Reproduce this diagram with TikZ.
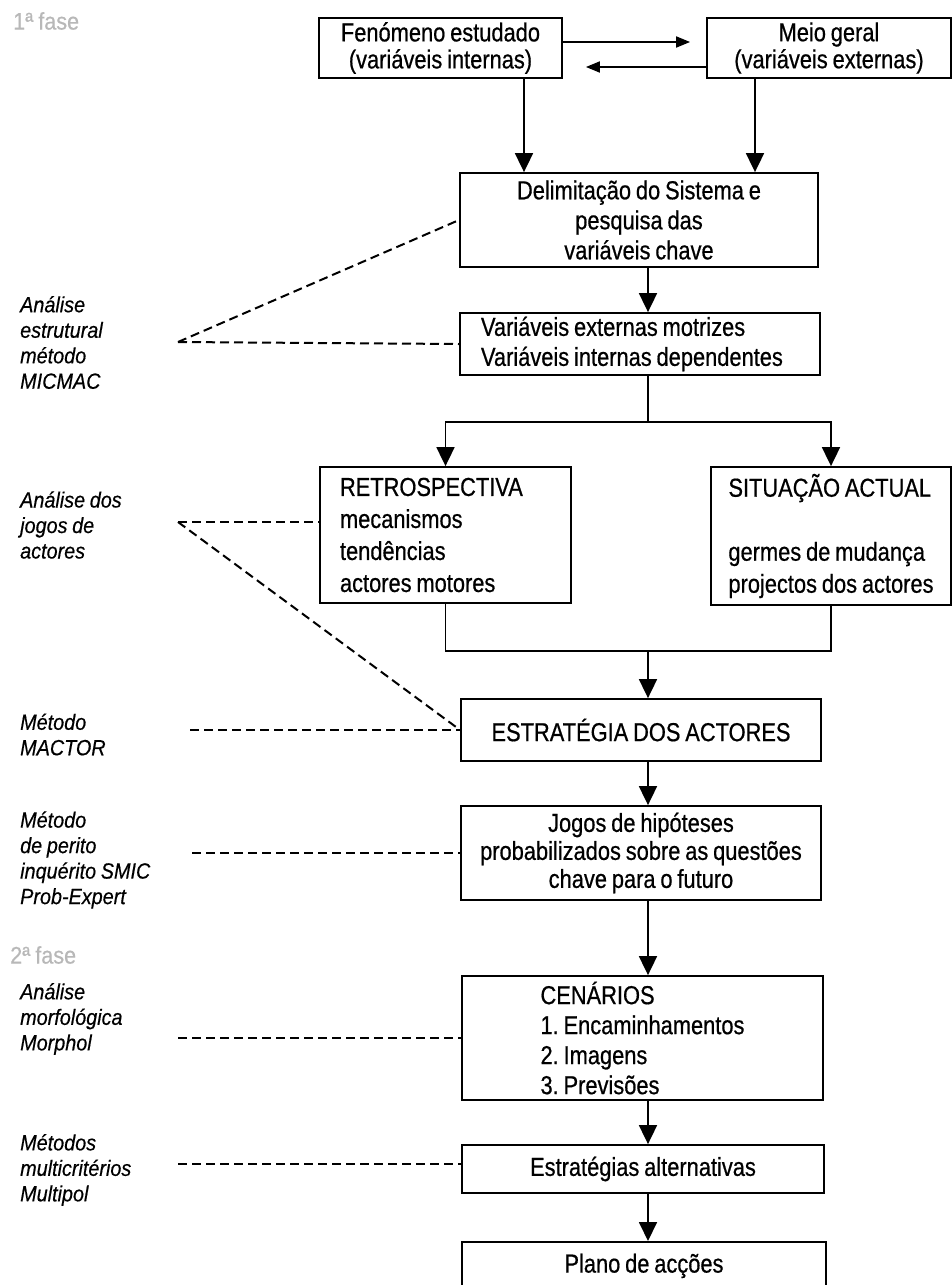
\documentclass[tikz,border=0pt]{standalone}
\usepackage{fontspec}
\setmainfont{Liberation Sans}
\newfontfamily\boxfont{Liberation Sans}[FakeStretch=0.84,FakeBold=0.6,WordSpace=0.8]
\newfontfamily\sidefont{Liberation Sans}[FakeStretch=0.9,FakeBold=0.4,WordSpace=0.85]
\usetikzlibrary{arrows.meta}

\begin{document}
\frenchspacing
\begin{tikzpicture}[x=1pt,y=-1pt,
  box/.style={draw, line width=1.8pt, inner sep=0pt, align=center,
    font=\boxfont\fontsize{26}{30}\selectfont,
    execute at begin node={\spaceskip=0pt\xspaceskip=0pt}},
  arr/.style={line width=1.8pt, -{Triangle[length=19pt,width=18pt]}},
  harr/.style={line width=1.8pt, -{Triangle[length=14pt,width=11pt]}},
  link/.style={line width=1.8pt},
  dashln/.style={line width=2pt, dash pattern=on 9pt off 5pt},
  side/.style={anchor=west, align=left, inner sep=0pt,
    font=\sidefont\itshape\fontsize{22}{25.5}\selectfont},
  phase/.style={anchor=west, inner sep=0pt, text=black!28,
    font=\sidefont\fontsize{24}{24}\selectfont}]
\useasboundingbox (0,0) rectangle (952,1285);
\fill[white] (0,0) rectangle (952,1285);
\clip (0,0) rectangle (952,1285);

% phase markers
\node[phase] (fase1) at (13,21) {1ª fase};
\node[phase] (fase2) at (10,955) {2ª fase};

% main chain of boxes
\node[box, minimum width=243pt, minimum height=60pt,
  font=\boxfont\fontsize{26}{27}\selectfont] (fen) at (440.5,48)
  {Fenómeno estudado\\(variáveis internas)};
\node[box, minimum width=244pt, minimum height=60pt,
  font=\boxfont\fontsize{26}{27}\selectfont] (meio) at (829,48)
  {Meio geral\\(variáveis externas)};
\node[box, minimum width=358pt, minimum height=94pt] (delim) at (639,220)
  {Delimitação do Sistema e\\pesquisa das\\variáveis chave};
\node[box, text width=318pt, inner xsep=21pt, minimum height=62pt, align=left] (var) at (640,344)
  {Variáveis externas motrizes\\Variáveis internas dependentes};
\node[box, text width=211pt, inner xsep=20pt, minimum height=136pt, align=left,
  font=\boxfont\fontsize{26}{32}\selectfont] (retro) at (445.5,535)
  {RETROSPECTIVA\\mecanismos\\tendências\\actores motores};
\node[box, minimum width=240pt, minimum height=138pt, align=left,
  font=\boxfont\fontsize{26}{32}\selectfont] (sit) at (831,536)
  {SITUAÇÃO ACTUAL\\[32pt]germes de mudança\\projectos dos actores};
\node[box, minimum width=360pt, minimum height=62pt] (est) at (641,730)
  {ESTRATÉGIA DOS ACTORES};
\node[box, minimum width=360pt, minimum height=94pt,
  font=\boxfont\fontsize{26}{28}\selectfont] (jogos) at (641,853)
  {Jogos de hipóteses\\probabilizados sobre as questões\\chave para o futuro};
\node[box, minimum width=361pt, minimum height=124pt, align=left] (cen) at (642.5,1038)
  {CENÁRIOS\\1. Encaminhamentos\\2. Imagens\\3. Previsões};
\node[box, minimum width=362pt, minimum height=48pt] (alt) at (643,1169)
  {Estratégias alternativas};
\node[box, minimum width=364pt, minimum height=48pt, anchor=north] (plano) at (644,1241)
  {Plano de acções};

% method labels
\node[side] (lMicmac) at (20,342.5) {Análise\\estrutural\\método\\MICMAC};
\node[side] (lJogos) at (20,525) {Análise dos\\jogos de\\actores};
\node[side] (lMactor) at (20,734.5) {Método\\MACTOR};
\node[side] (lSmic) at (20,860) {Método\\de perito\\inquérito SMIC\\Prob-Expert};
\node[side] (lMorph) at (20,1019) {Análise\\morfológica\\Morphol};
\node[side] (lMulti) at (20,1170) {Métodos\\multicritérios\\Multipol};

% flow connectors
\coordinate (spine) at (648,0);
\coordinate (split) at (648,422);
\coordinate (join) at (648,651);
\draw[harr] ([yshift=6pt]fen.east) -- ([yshift=6pt,xshift=-16pt]meio.west);
\draw[harr] ([yshift=-19pt]meio.west) -- ([yshift=-19pt,xshift=23pt]fen.east);
\draw[arr] ([xshift=83.5pt]fen.south) -- ([xshift=83.5pt]fen.south |- delim.north);
\draw[arr] ([xshift=-74pt]meio.south) -- ([xshift=-74pt]meio.south |- delim.north);
\draw[arr] (delim.south -| spine) -- (var.north -| spine);
\draw[link] (var.south -| spine) -- (split);
\draw[arr] (split) -| (retro.north);
\draw[arr] (split) -| (sit.north);
\draw[link] (retro.south) |- (join);
\draw[link] (sit.south) |- (join);
\draw[arr] (join) -- (est.north -| join);
\draw[arr] (est.south -| spine) -- (jogos.north -| spine);
\draw[arr] (jogos.south -| spine) -- (cen.north -| spine);
\draw[arr] (cen.south -| spine) -- (alt.north -| spine);
\draw[arr] (alt.south -| spine) -- (plano.north -| spine);

% dashed links from methods to stages
\coordinate (dMicmac) at (178,342);
\coordinate (dJogos) at (178,522);
\coordinate (dMactor) at (190,730);
\coordinate (dSmic) at (192,853);
\coordinate (dMorph) at (178,1038);
\coordinate (dMulti) at (178,1164);
\draw[dashln] (dMicmac) -- (delim.west);
\draw[dashln] (dMicmac) -- (var.west);
\draw[dashln] (dJogos) -- ([yshift=13pt]retro.west);
\draw[dashln] (dJogos) -- (est.west);
\draw[dashln] (dMactor) -- (est.west);
\draw[dashln] (dSmic) -- (jogos.west);
\draw[dashln] (dMorph) -- (cen.west);
\draw[dashln] (dMulti) -- ([yshift=5pt]alt.west);
\end{tikzpicture}
\end{document}
